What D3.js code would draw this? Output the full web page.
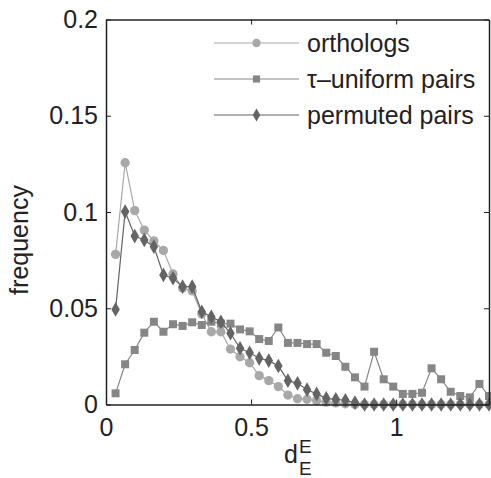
<!DOCTYPE html>
<html><head><meta charset="utf-8">
<script src="https://cdn.jsdelivr.net/npm/d3@7"></script>
<style>body{margin:0;background:#fff}svg{display:block}text{font-family:"Liberation Sans",Arial,Helvetica,sans-serif}</style>
</head><body>
<script>
const binCenters = [0.033,0.066,0.099,0.132,0.165,0.198,0.231,0.264,0.297,0.33,0.363,0.396,0.429,0.462,0.495,0.528,0.561,0.594,0.627,0.66,0.693,0.726,0.759,0.792,0.825,0.858,0.891,0.924,0.957,0.99,1.023,1.056,1.089,1.122,1.155,1.188,1.221,1.254,1.287,1.32];
const orthologs = [0.078,0.1256,0.1007,0.0906,0.085,0.080,0.0678,0.0605,0.059,0.047,0.0378,0.0378,0.0288,0.0248,0.0217,0.015,0.0124,0.0093,0.0049,0.003,0.0027,0.002,0.0012,0.0008,0.0004,0,0,0,0,0,0,0,0,0,0,0,0,0,0,0];
const tauUniform = [0.0058,0.0209,0.0283,0.0373,0.043,0.0378,0.0417,0.0408,0.0427,0.0413,0.043,0.042,0.042,0.039,0.038,0.034,0.033,0.040,0.032,0.032,0.0314,0.0314,0.0269,0.0252,0.0196,0.0141,0.0093,0.0274,0.0131,0.0093,0.0055,0.0055,0.0061,0.0188,0.0131,0.0066,0.0044,0.0037,0.0107,0.0044];
const permuted = [0.0494,0.1002,0.0875,0.0855,0.082,0.0673,0.0656,0.0612,0.0612,0.0482,0.0456,0.043,0.037,0.0292,0.0269,0.024,0.0228,0.020,0.0124,0.011,0.0077,0.0055,0.0032,0.0027,0.0022,0.001,0,0,0,0,0,0,0,0,0,0,0,0,0,0];
const seriesNames = ["orthologs","\u03c4\u2013uniform pairs","permuted pairs"];
const xTicks = [0,0.5,1];
const yTicks = [0,0.05,0.1,0.15,0.2];

const W=491,H=478;
const L=106,R=489,T=19.5,B=404.5;
const svg=d3.select("body").append("svg").attr("width",W).attr("height",H);
svg.append("rect").attr("width",W).attr("height",H).attr("fill","#fff");
const x=d3.scaleLinear().domain([0,1.32]).range([L,R]);
const y=d3.scaleLinear().domain([0,0.2]).range([B,T]);

const styles=[
 {color:"#a8a8a8", sym:d3.symbolCircle, size:68},
 {color:"#868686", sym:d3.symbolSquare, size:64},
 {color:"#646464", sym:d3.symbolDiamond, size:62}
];
const data=[orthologs,tauUniform,permuted];

const line=d3.line().x((d,i)=>x(binCenters[i])).y(d=>y(d));
data.forEach((vals,si)=>{
  const st=styles[si];
  svg.append("path").datum(vals).attr("d",line).attr("fill","none").attr("stroke",st.color).attr("stroke-width",1.2);
  svg.append("g").selectAll("path").data(vals).join("path")
    .attr("d",d3.symbol().type(st.sym).size(st.size))
    .attr("transform",(d,i)=>`translate(${x(binCenters[i])},${y(d)})`)
    .attr("fill",st.color);
});

// axes
const fmt=d=>d===0?"0":String(d);
const gy=svg.append("g").attr("transform",`translate(${L},0)`)
  .call(d3.axisLeft(y).tickValues(yTicks).tickFormat(fmt).tickSize(-5).tickPadding(8).tickSizeOuter(0));
const gx=svg.append("g").attr("transform",`translate(0,${B})`)
  .call(d3.axisBottom(x).tickValues(xTicks).tickFormat(fmt).tickSize(-5).tickPadding(14).tickSizeOuter(0));
const gr=svg.append("g").attr("transform",`translate(${R},0)`)
  .call(d3.axisRight(y).tickValues(yTicks).tickFormat("").tickSize(-5).tickSizeOuter(0));
const gt=svg.append("g").attr("transform",`translate(0,${T})`)
  .call(d3.axisTop(x).tickValues(xTicks).tickFormat("").tickSize(-5).tickSizeOuter(0));
[gy,gx,gr,gt].forEach(g=>{
  g.selectAll("path").attr("stroke","#222").attr("stroke-width",1.5);
  g.selectAll("line").attr("stroke","#222").attr("stroke-width",1);
  g.selectAll("text").attr("font-size",25).attr("fill","#222").attr("font-family",'"Liberation Sans",Arial,sans-serif');
});

// legend
const legY=[43,79,115];
seriesNames.forEach((name,si)=>{
  const st=styles[si];
  const g=svg.append("g").attr("transform",`translate(0,${legY[si]})`);
  g.append("line").attr("x1",214).attr("x2",299).attr("y1",0).attr("y2",0).attr("stroke",st.color).attr("stroke-width",1.2);
  g.append("path").attr("d",d3.symbol().type(st.sym).size(st.size*0.8)).attr("transform","translate(256.5,0)").attr("fill",st.color);
  g.append("text").attr("x",307).attr("y",0).attr("dy","0.35em").attr("font-size",25).attr("fill","#222").text(name);
});

// axis labels
svg.append("text").attr("transform","translate(28,240) rotate(-90)").attr("text-anchor","middle")
  .attr("font-size",25).attr("fill","#222").text("frequency");
const xl=svg.append("g");
xl.append("text").attr("x",284).attr("y",463).attr("font-size",25).attr("fill","#222").text("d");
xl.append("text").attr("x",299).attr("y",453).attr("font-size",19).attr("fill","#222").text("E");
xl.append("text").attr("x",299).attr("y",475).attr("font-size",19).attr("fill","#222").text("E");
</script>
</body></html>
